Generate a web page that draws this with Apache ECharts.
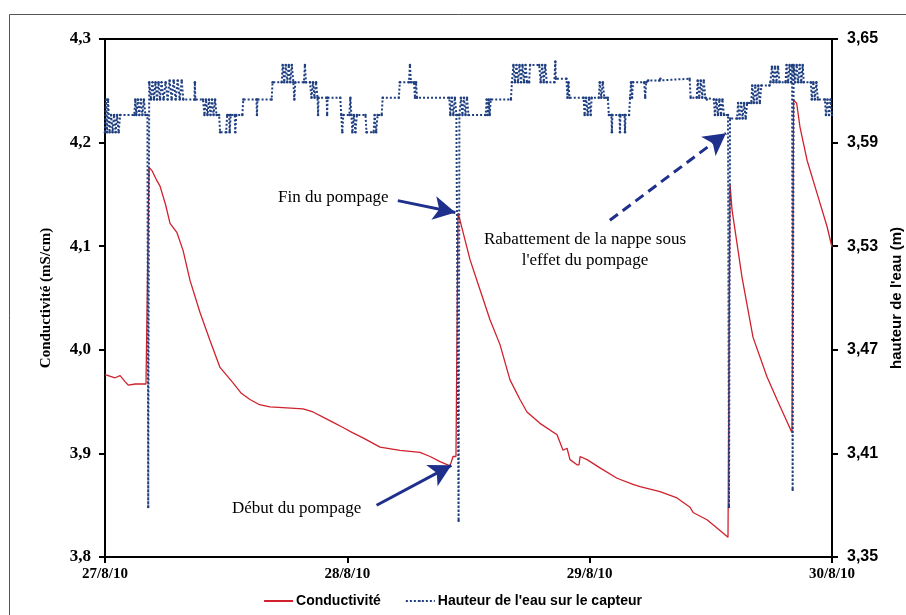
<!DOCTYPE html>
<html>
<head>
<meta charset="utf-8">
<script src="https://cdn.jsdelivr.net/npm/echarts@6/dist/echarts.min.js"></script>
<style>
  html, body { margin: 0; padding: 0; background: #fff; }
  #chart { width: 906px; height: 615px; }
</style>
</head>
<body>
<div id="chart"></div>
<script>
    // axe des x : heures depuis le 27/8/10 0h
    var jours = ['27/8/10', '28/8/10', '29/8/10', '30/8/10'];

    // conductivite (mS/cm)
    var condT = [0, 1.0, 1.5, 2.0, 2.3, 3.0, 4.06, 4.16, 4.36, 4.65, 5.15, 5.45, 6.0, 6.44, 7.13, 7.73, 8.42, 9.41, 10.4, 11.39,
        12.68, 13.5, 14.36, 15.3, 16.34, 18.0, 19.61, 20.6, 21.59, 22.6, 23.57, 24.5, 25.55, 27.24, 29.22, 31.2, 32.2, 33.18, 34.17, 34.47,
        34.76, 34.96, 35.16, 36.15, 37.14, 38.13, 39.12, 40.11, 41.1, 41.79, 43.08, 44.77, 45.36, 45.76, 46.05, 46.75, 46.95, 47.05, 47.74, 49.02,
        50.71, 52.29, 52.99, 54.97, 56.65, 57.94, 58.24, 59.62, 60.61, 61.7, 61.9, 62.1, 63.09, 64.18, 65.56, 66.55, 68.04, 68.2, 68.5, 68.83,
        69.53, 70.52, 71.51, 72];
    var condV = [3.976, 3.973, 3.975, 3.969, 3.966, 3.967, 3.967, 3.967, 4.176, 4.173, 4.163, 4.158, 4.14, 4.122, 4.113, 4.096, 4.067, 4.036, 4.009, 3.983,
        3.968, 3.958, 3.952, 3.947, 3.945, 3.944, 3.943, 3.940, 3.935, 3.930, 3.925, 3.920, 3.915, 3.906, 3.903, 3.901, 3.897, 3.892, 3.888, 3.897,
        3.897, 4.132, 4.125, 4.087, 4.058, 4.029, 4.005, 3.971, 3.952, 3.940, 3.929, 3.918, 3.903, 3.905, 3.894, 3.889, 3.889, 3.897, 3.894, 3.886,
        3.876, 3.870, 3.868, 3.863, 3.857, 3.848, 3.843, 3.836, 3.828, 3.819, 4.16, 4.135, 4.070, 4.012, 3.974, 3.952, 3.920, 4.241, 4.238, 4.215,
        4.183, 4.151, 4.119, 4.099];

    // hauteur de l'eau sur le capteur (m)
    var hautT = [0, 0.1, 0.2, 0.3, 0.45, 0.6, 0.75, 0.9, 1.05, 1.2, 1.35, 1.5, 2.9, 3.0, 3.1, 3.25, 3.4, 3.55, 3.7, 3.85,
        4.0, 4.2, 4.28, 4.38, 4.55, 4.7, 4.85, 5.0, 5.15, 5.3, 5.45, 5.6, 5.8, 6.0, 6.2, 6.4, 6.6, 6.8, 7.0, 7.2,
        7.4, 7.6, 7.75, 8.85, 8.9, 8.95, 9.7, 9.85, 10.0, 10.15, 10.3, 10.45, 10.6, 10.75, 10.9, 11.05, 11.3, 11.4, 12.0, 12.1,
        12.3, 12.35, 12.45, 12.85, 12.9, 13.0, 13.6, 13.7, 15.0, 15.05, 15.1, 16.5, 16.6, 17.5, 17.6, 17.75, 17.9, 18.05, 18.2, 18.35,
        18.5, 18.65, 18.75, 18.85, 19.7, 19.8, 19.9, 20.3, 20.45, 20.6, 20.75, 20.9, 21.05, 21.1, 21.15, 21.95, 22.0, 22.05, 23.3, 23.4,
        23.5, 23.6, 24.2, 24.3, 24.4, 24.5, 24.65, 24.8, 24.95, 25.8, 25.9, 26.6, 26.7, 26.85, 27.0, 27.4, 27.5, 29.1, 29.2, 30.1,
        30.2, 30.3, 30.6, 30.7, 30.8, 30.9, 34.1, 34.2, 34.35, 34.5, 34.65, 34.8, 34.95, 35.02, 35.1, 35.25, 35.4, 35.55, 35.7, 35.85,
        36.0, 37.7, 37.8, 37.9, 38.0, 38.1, 38.2, 40.2, 40.3, 40.45, 40.6, 40.75, 40.9, 41.05, 41.2, 41.35, 41.5, 41.65, 41.8, 42.0,
        42.1, 43.0, 43.15, 43.3, 43.45, 43.6, 43.75, 44.5, 44.6, 44.65, 45.7, 45.8, 45.9, 46.0, 47.4, 47.5, 47.65, 47.8, 47.95, 48.1,
        48.2, 48.9, 49.0, 49.15, 49.3, 49.45, 49.8, 49.9, 50.15, 50.2, 50.25, 50.95, 51.0, 51.05, 51.45, 51.5, 51.55, 51.9, 52.0, 52.1,
        52.2, 52.3, 53.4, 53.5, 53.6, 53.8, 54.9, 55.0, 57.9, 58.0, 58.6, 58.7, 58.85, 59.0, 59.15, 59.3, 59.45, 59.6, 60.3, 60.4,
        60.55, 60.7, 60.85, 61.0, 61.15, 61.3, 61.7, 61.8, 61.9, 62.6, 62.7, 62.85, 63.0, 63.15, 63.3, 63.45, 63.6, 64.0, 64.1, 64.25,
        64.4, 64.55, 64.7, 64.85, 65.0, 65.8, 65.9, 66.05, 66.2, 66.35, 66.5, 66.65, 66.8, 67.4, 67.5, 67.65, 67.8, 67.95, 68.05, 68.1,
        68.2, 68.35, 68.5, 68.65, 68.8, 68.95, 69.1, 69.2, 69.9, 70.0, 70.15, 70.3, 70.45, 70.6, 71.3, 71.4, 71.55, 71.7, 71.85, 72];
    var hautV = [3.596, 3.615, 3.596, 3.615, 3.596, 3.606, 3.596, 3.606, 3.596, 3.606, 3.596, 3.606, 3.606, 3.615, 3.606, 3.615, 3.606, 3.615, 3.606, 3.615,
        3.606, 3.606, 3.379, 3.625, 3.615, 3.625, 3.615, 3.625, 3.615, 3.625, 3.615, 3.625, 3.615, 3.625, 3.615, 3.626, 3.615, 3.626, 3.615, 3.626,
        3.615, 3.626, 3.615, 3.615, 3.625, 3.615, 3.615, 3.606, 3.615, 3.606, 3.615, 3.606, 3.615, 3.606, 3.615, 3.606, 3.606, 3.596, 3.596, 3.606,
        3.606, 3.596, 3.606, 3.606, 3.596, 3.606, 3.606, 3.615, 3.615, 3.606, 3.615, 3.615, 3.625, 3.625, 3.635, 3.625, 3.635, 3.625, 3.635, 3.625,
        3.635, 3.625, 3.615, 3.625, 3.625, 3.635, 3.625, 3.625, 3.616, 3.625, 3.616, 3.625, 3.616, 3.606, 3.616, 3.616, 3.606, 3.616, 3.616, 3.606,
        3.596, 3.606, 3.606, 3.616, 3.606, 3.596, 3.606, 3.596, 3.606, 3.606, 3.596, 3.596, 3.606, 3.596, 3.606, 3.606, 3.616, 3.616, 3.625, 3.625,
        3.635, 3.625, 3.625, 3.616, 3.625, 3.616, 3.616, 3.606, 3.616, 3.606, 3.616, 3.606, 3.606, 3.371, 3.606, 3.616, 3.606, 3.616, 3.606, 3.616,
        3.606, 3.606, 3.615, 3.606, 3.615, 3.606, 3.615, 3.615, 3.625, 3.635, 3.625, 3.635, 3.625, 3.635, 3.625, 3.635, 3.625, 3.635, 3.625, 3.625,
        3.635, 3.635, 3.625, 3.635, 3.625, 3.635, 3.625, 3.625, 3.637, 3.627, 3.627, 3.616, 3.625, 3.616, 3.616, 3.606, 3.616, 3.606, 3.616, 3.606,
        3.616, 3.616, 3.625, 3.616, 3.625, 3.616, 3.616, 3.606, 3.606, 3.596, 3.606, 3.606, 3.596, 3.606, 3.606, 3.596, 3.606, 3.606, 3.616, 3.625,
        3.616, 3.625, 3.625, 3.616, 3.625, 3.626, 3.626, 3.627, 3.627, 3.616, 3.616, 3.626, 3.616, 3.626, 3.616, 3.626, 3.616, 3.615, 3.615, 3.606,
        3.615, 3.606, 3.615, 3.606, 3.615, 3.606, 3.606, 3.379, 3.604, 3.604, 3.613, 3.604, 3.613, 3.604, 3.613, 3.604, 3.613, 3.613, 3.623, 3.613,
        3.623, 3.613, 3.623, 3.613, 3.623, 3.623, 3.625, 3.634, 3.625, 3.634, 3.625, 3.634, 3.625, 3.625, 3.635, 3.625, 3.635, 3.625, 3.635, 3.389,
        3.635, 3.625, 3.635, 3.625, 3.635, 3.625, 3.635, 3.625, 3.625, 3.615, 3.625, 3.615, 3.625, 3.615, 3.615, 3.606, 3.615, 3.606, 3.615, 3.606];

    function zip(a, b) {
        var out = [];
        for (var i = 0; i < a.length; i++) out.push([a[i], b[i]]);
        return out;
    }

    var serif = '"Liberation Serif", "DejaVu Serif", serif';
    var sans = '"Liberation Sans", Arial, sans-serif';
    var bleu = '#1f3f80';
    var rouge = '#d0212d';
    var fleche = '#1f2f8c';

    var chart = echarts.init(document.getElementById('chart'));
    chart.setOption({
        animation: false,
        grid: {
            left: 105, right: 74, top: 39, bottom: 58,
            outerBoundsMode: 'none',
            show: true, borderColor: '#000', borderWidth: 2
        },
        legend: {
            bottom: 2,
            left: 'center',
            itemWidth: 29,
            itemHeight: 2,
            itemGap: 24,
            textStyle: { fontFamily: sans, fontWeight: 'bold', fontSize: 14, color: '#000', padding: [0, 0, 0, -2] },
            data: [
                { name: 'Conductivité', icon: 'rect' },
                { name: "Hauteur de l'eau sur le capteur" }
            ]
        },
        xAxis: {
            type: 'value', min: 0, max: 72, interval: 24,
            axisLine: { lineStyle: { color: '#000', width: 2 } },
            axisTick: { length: 6, lineStyle: { color: '#000', width: 2 } },
            splitLine: { show: false },
            axisLabel: {
                margin: 10,
                fontFamily: serif, fontWeight: 'bold', fontSize: 15, color: '#000',
                formatter: function (v) { return jours[Math.round(v / 24)]; }
            }
        },
        yAxis: [{
            type: 'value', min: 3.8, max: 4.3, interval: 0.1,
            name: 'Conductivité (mS/cm)', nameLocation: 'middle', nameGap: 51,
            nameTextStyle: { fontFamily: serif, fontWeight: 'bold', fontSize: 15, color: '#000' },
            axisLine: { show: true, lineStyle: { color: '#000', width: 2 } },
            axisTick: { show: true, length: 6, lineStyle: { color: '#000', width: 2 } },
            splitLine: { show: false },
            axisLabel: {
                margin: 14,
                fontFamily: serif, fontWeight: 'bold', fontSize: 17, color: '#000',
                formatter: function (v) { return v.toFixed(1).replace('.', ','); }
            }
        }, {
            type: 'value', min: 3.35, max: 3.65, interval: 0.06,
            name: "hauteur de l'eau (m)", nameLocation: 'middle', nameGap: 54,
            nameRotate: 90,
            nameTextStyle: { fontFamily: sans, fontWeight: 'bold', fontSize: 15, color: '#000' },
            axisLine: { show: true, lineStyle: { color: '#000', width: 2 } },
            axisTick: { show: true, length: 6, lineStyle: { color: '#000', width: 2 } },
            splitLine: { show: false },
            axisLabel: {
                margin: 15,
                fontFamily: sans, fontWeight: 'bold', fontSize: 16, color: '#000',
                formatter: function (v) { return v.toFixed(2).replace('.', ','); }
            }
        }],
        series: [{
            name: 'Conductivité',
            type: 'line',
            yAxisIndex: 0,
            data: zip(condT, condV),
            showSymbol: false,
            symbol: 'none',
            itemStyle: { color: rouge },
            lineStyle: { color: rouge, width: 1.3 },
            markLine: {
                silent: true,
                symbol: ['none', 'arrow'],
                symbolSize: [18, 22],
                label: { show: false },
                lineStyle: { color: fleche, width: 3, type: 'solid' },
                data: [
                    [{ coord: [29.0, 4.144] }, { coord: [34.7, 4.1325] }],
                    [{ coord: [26.9, 3.850] }, { coord: [34.3, 3.8885] }],
                    [{ coord: [50.0, 4.125], lineStyle: { type: [10, 6], color: fleche, width: 3 } },
                        { coord: [61.5, 4.209] }]
                ]
            }
        }, {
            name: "Hauteur de l'eau sur le capteur",
            type: 'line',
            yAxisIndex: 1,
            data: zip(hautT, hautV),
            symbol: 'circle',
            symbolSize: 2.5,
            showSymbol: true,
            itemStyle: { color: bleu },
            lineStyle: { color: bleu, width: 2, type: [2, 2] }
        }],
        graphic: [{
            type: 'rect', silent: true,
            shape: { x: 9.5, y: 14.5, width: 930, height: 640 },
            style: { fill: 'none', stroke: '#555', lineWidth: 1 }
        }, {
            type: 'text', left: 278, top: 189,
            style: { text: 'Fin du pompage', font: '17px ' + serif, fill: '#000' }
        }, {
            type: 'text', left: 232, top: 500,
            style: { text: 'Début du pompage', font: '17px ' + serif, fill: '#000' }
        }, {
            type: 'text', x: 585, y: 229,
            style: {
                text: "Rabattement de la nappe sous\nl'effet du pompage",
                font: '17px ' + serif, fill: '#000', align: 'center', lineHeight: 21
            }
        }]
    });
</script>
</body>
</html>
